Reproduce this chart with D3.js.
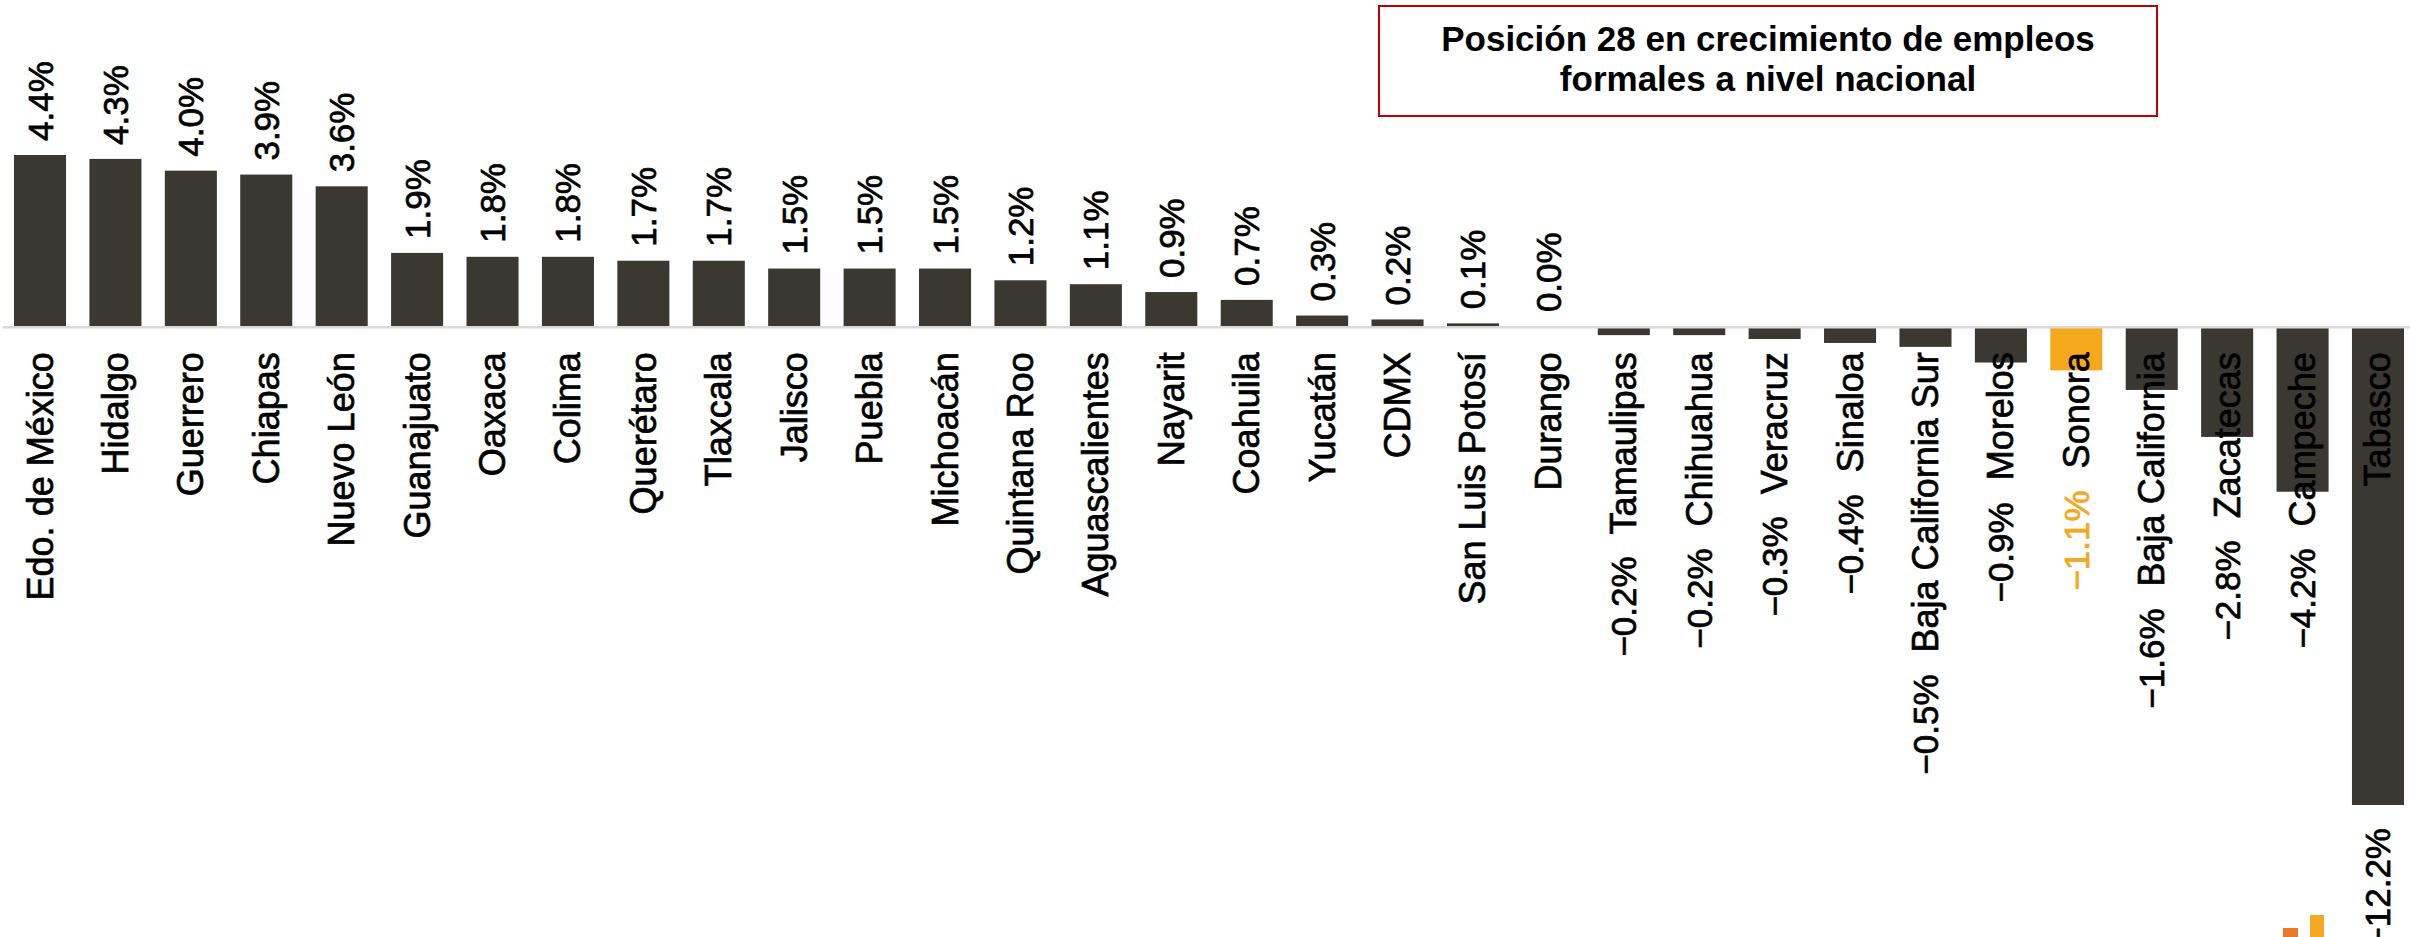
<!DOCTYPE html>
<html>
<head>
<meta charset="utf-8">
<script src="https://cdn.jsdelivr.net/npm/d3@7"></script>
<style>
  body { margin: 0; background: #fff; }
  svg { display: block; font-family: "Liberation Sans", Arial, sans-serif; }
</style>
</head>
<body>
<div class="chart"></div>
<script>
// states and growth of formal jobs (%)
const states = ["Edo. de México", "Hidalgo", "Guerrero", "Chiapas", "Nuevo León", "Guanajuato",
  "Oaxaca", "Colima", "Querétaro", "Tlaxcala", "Jalisco", "Puebla", "Michoacán", "Quintana Roo",
  "Aguascalientes", "Nayarit", "Coahuila", "Yucatán", "CDMX", "San Luis Potosí", "Durango",
  "Tamaulipas", "Chihuahua", "Veracruz", "Sinaloa", "Baja California Sur", "Morelos", "Sonora",
  "Baja California", "Zacatecas", "Campeche", "Tabasco"];
const growth = [4.4, 4.3, 4.0, 3.9, 3.6, 1.9, 1.8, 1.8, 1.7, 1.7, 1.5, 1.5, 1.5, 1.2, 1.1, 0.9,
  0.7, 0.3, 0.2, 0.1, 0.03, -0.2, -0.2, -0.3, -0.4, -0.5, -0.9, -1.1, -1.6, -2.8, -4.2, -12.2];
const highlight = "Sonora";
const titleLines = ["Posición 28 en crecimiento de empleos", "formales a nivel nacional"];

const width = 2410, height = 937;
const barColor = "#3b3731", hiColor = "#f5a81c";

const data = states.map((s, i) => ({ state: s, value: growth[i] }));

const svg = d3.select(".chart").append("svg")
  .attr("width", width).attr("height", height);

const x = d3.scaleBand().domain(states).range([2.3, 2415.7])
  .paddingInner(0.31).paddingOuter(0.155);
const y = d3.scaleLinear().domain([-12.2, 4.4]).range([805, 155]);

// bars
svg.selectAll("rect.bar").data(data).enter().append("rect")
  .attr("class", "bar")
  .attr("x", d => x(d.state))
  .attr("width", x.bandwidth())
  .attr("y", d => y(Math.max(0, d.value)))
  .attr("height", d => Math.abs(y(d.value) - y(0)))
  .attr("fill", d => d.state === highlight ? hiColor : barColor);

// zero line
svg.append("line")
  .attr("x1", 3).attr("x2", width)
  .attr("y1", y(0)).attr("y2", y(0))
  .attr("stroke", "#d9d9d9").attr("stroke-width", 2.5);

const cx = d => x(d.state) + x.bandwidth() / 2 + 12.5;
const labelTop = y(0) + 25;
const fmt = v => (v < 0 ? "\u2212" : "") + d3.format(".1f")(Math.abs(v)) + "%";

// category labels
const cats = svg.selectAll("text.cat").data(data).enter().append("text")
  .attr("class", "cat")
  .attr("text-anchor", "end")
  .attr("font-size", "36px")
  .attr("fill", "#000")
  .attr("stroke", "#000").attr("stroke-width", 0.7)
  .attr("transform", d => `translate(${cx(d)},${labelTop}) rotate(-90)`)
  .text(d => d.state);

const catLen = {};
cats.each(function (d) { catLen[d.state] = this.getComputedTextLength(); });

// value labels
svg.selectAll("text.val").data(data).enter().append("text")
  .attr("class", "val")
  .attr("font-size", "35px")
  .attr("text-anchor", d => d.value >= 0 ? "start" : "end")
  .attr("fill", d => d.state === highlight ? hiColor : "#000")
  .attr("stroke", d => d.state === highlight ? hiColor : "#000").attr("stroke-width", 0.7)
  .attr("transform", d => {
    let ty;
    if (d.value >= 0) ty = y(d.value) - 14;
    else ty = Math.max(y(d.value) + 23, labelTop + catLen[d.state] + 22);
    return `translate(${cx(d)},${ty}) rotate(-90)`;
  })
  .text(d => fmt(d.value));

// title box
const box = svg.append("g");
box.append("rect")
  .attr("x", 1379).attr("y", 6).attr("width", 778).attr("height", 110)
  .attr("fill", "#fff").attr("stroke", "#c00000").attr("stroke-width", 2);
box.selectAll("text").data(titleLines).enter().append("text")
  .attr("x", 1768).attr("y", (d, i) => 51 + i * 40)
  .attr("text-anchor", "middle")
  .attr("font-size", "35px").attr("font-weight", "bold")
  .text(d => d);

// little logo bars in the corner
svg.append("rect").attr("x", 2283).attr("y", 928).attr("width", 15).attr("height", 12).attr("fill", "#e8792a");
svg.append("rect").attr("x", 2310).attr("y", 915).attr("width", 14).attr("height", 25).attr("fill", "#f7a823");
</script>
</body>
</html>
